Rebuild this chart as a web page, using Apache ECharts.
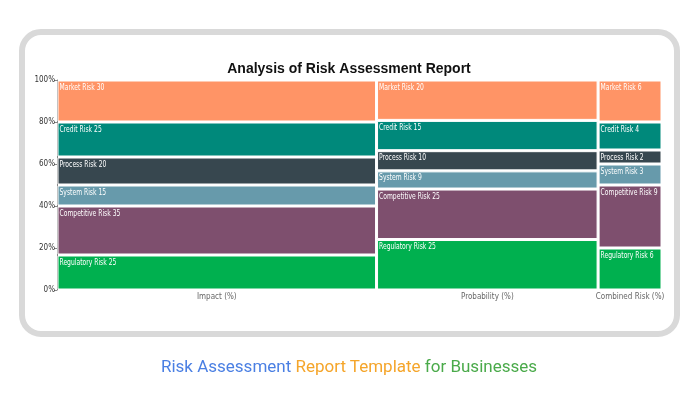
<!DOCTYPE html>
<html>
<head>
<meta charset="utf-8">
<script src="https://cdn.jsdelivr.net/npm/echarts@6/dist/echarts.min.js"></script>
<style>
  html, body { margin: 0; padding: 0; background: #fff; }
  #frame {
    position: absolute; left: 19px; top: 29px; width: 649px; height: 296px;
    border: 6px solid #d9d9d9; border-radius: 22px; background: #fff;
  }
  #chart { position: absolute; left: 0; top: 0; width: 698px; height: 400px; }
  #caption {
    position: absolute; left: 0; top: 356px; width: 698px; text-align: center;
    font-family: Roboto, sans-serif; font-size: 17px;
  }
</style>
</head>
<body>
<div id="frame"></div>
<div id="chart"></div>
<div id="caption"><span style="color:#4a7fe3">Risk Assessment</span> <span style="color:#f5a52a">Report Template</span> <span style="color:#4aaa4a">for Businesses</span></div>
<script>
// columns of the mekko chart
const columns = ['Impact (%)', 'Probability (%)', 'Combined Risk (%)'];
// risks, stacked from the bottom up
const risks = ['Regulatory Risk', 'Competitive Risk', 'System Risk', 'Process Risk', 'Credit Risk', 'Market Risk'];
const riskColors = ['#00b04f', '#7e4f6e', '#679aab', '#37474f', '#00897b', '#ff9466'];
// values per column, same order as risks
const impactVals = [25, 35, 15, 20, 25, 30];
const probabilityVals = [25, 25, 9, 10, 15, 20];
const combinedVals = [6, 9, 3, 2, 4, 6];
const yTicks = [0, 20, 40, 60, 80, 100];

const colVals = [impactVals, probabilityVals, combinedVals];
const colTotals = colVals.map(v => v.reduce((a, b) => a + b, 0));
const grandTotal = colTotals.reduce((a, b) => a + b, 0);

// build rectangles: [x0, x1, y0, y1, riskIndex, value]
let cells = [];
let mids = [];
let xStart = 0;
colVals.forEach((vals, ci) => {
  let yStart = 0;
  vals.forEach((v, ri) => {
    let pct = v / colTotals[ci] * 100;
    cells.push([xStart, xStart + colTotals[ci], yStart, yStart + pct, ri, v]);
    yStart += pct;
  });
  mids.push(xStart + colTotals[ci] / 2);
  xStart += colTotals[ci];
});

const smallFont = 'Liberation Sans Narrow, DejaVu Sans Condensed, sans-serif';

let myChart = echarts.init(document.getElementById('chart'));
let option = {
  animation: false,
  title: {
    text: 'Analysis of Risk Assessment Report',
    left: 'center',
    top: 57,
    textStyle: { fontFamily: 'Liberation Sans, Arial', fontSize: 14, fontWeight: 'bold', color: '#111' }
  },
  grid: { left: 57, right: 36, top: 80, bottom: 110 },
  xAxis: {
    type: 'value',
    min: 0,
    max: grandTotal,
    splitLine: { show: false },
    axisLine: { show: false },
    axisTick: { show: false },
    axisLabel: {
      customValues: mids,
      formatter: (val) => {
        let i = mids.findIndex(m => Math.abs(m - val) < 0.01);
        return i >= 0 ? columns[i] : '';
      },
      color: '#666',
      fontSize: 8,
      margin: 3,
      fontFamily: smallFont
    }
  },
  yAxis: {
    type: 'value',
    min: 0,
    max: 100,
    interval: 20,
    splitLine: { show: false },
    axisLine: { show: true, lineStyle: { color: '#888', width: 1 } },
    axisTick: { show: true, length: 3, lineStyle: { color: '#888' } },
    axisLabel: {
      formatter: (v) => yTicks.includes(v) ? v + '%' : '',
      color: '#333',
      fontSize: 8,
      margin: 2,
      fontFamily: smallFont
    }
  },
  series: [{
    type: 'custom',
    data: cells,
    clip: false,
    renderItem: function (params, api) {
      let p0 = api.coord([api.value(0), api.value(3)]);
      let p1 = api.coord([api.value(1), api.value(2)]);
      let ri = api.value(4);
      return {
        type: 'group',
        children: [{
          type: 'rect',
          shape: { x: p0[0] + 1, y: p0[1] + 1, width: p1[0] - p0[0] - 2, height: p1[1] - p0[1] - 2 },
          style: { fill: riskColors[ri], stroke: '#fff', lineWidth: 1 }
        }, {
          type: 'text',
          x: p0[0] + 2.5,
          y: p0[1] + 3.5,
          scaleX: 0.84,
          style: {
            text: risks[ri] + ' ' + api.value(5),
            fill: '#fff',
            fontSize: 8,
            fontFamily: smallFont,
            textAlign: 'left',
            textVerticalAlign: 'top'
          }
        }]
      };
    }
  }]
};
myChart.setOption(option);
</script>
</body>
</html>
